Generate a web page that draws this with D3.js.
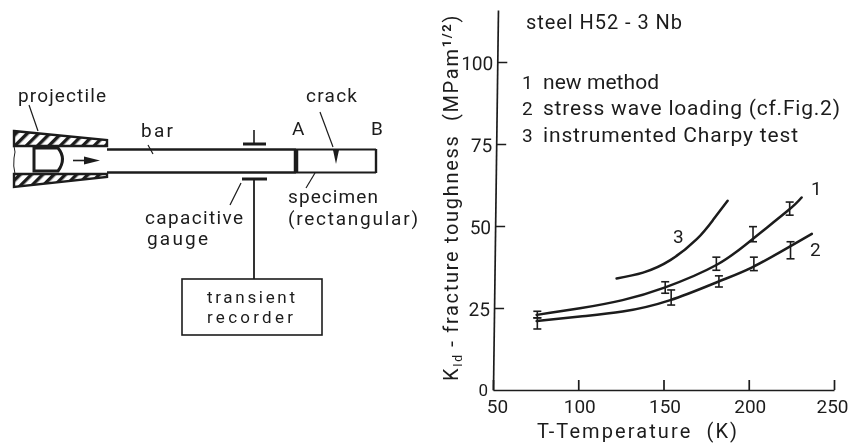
<!DOCTYPE html>
<html>
<head>
<meta charset="utf-8">
<script src="https://cdn.jsdelivr.net/npm/d3@7"></script>
<style>
  body { margin: 0; background: #fff; }
  svg { display: block; filter: blur(0.45px); }
  text { font-family: Roboto, sans-serif; fill: #1c1c1c; }
</style>
</head>
<body>
<div id="chart"></div>
<script>
// values
const xTicks = [50, 100, 150, 200, 250];
const yTicks = [25, 50, 75, 100];

const newMethodT = [75.6, 101, 126, 151, 181, 202, 223, 231];
const newMethodK = [22.9, 24.9, 27.4, 31.3, 38.1, 45.9, 54.7, 58.7];

const stressWaveT = [75.6, 101, 126, 154, 182, 202, 223, 237];
const stressWaveK = [21.0, 22.4, 23.9, 27.4, 33.0, 37.4, 43.4, 47.6];

const charpyT = [122.5, 138, 154, 169.5, 179, 187.6];
const charpyK = [34.0, 35.8, 39.6, 46.0, 51.8, 57.7];

// error bars: temperature, low, high
const newMethodErrT = [76, 151, 181, 202.5, 224];
const newMethodErrLow = [22, 29.5, 36.5, 45.2, 53.3];
const newMethodErrHigh = [24, 33, 40.5, 49.8, 57.3];

const stressWaveErrT = [76, 154.5, 182.5, 203, 224.5];
const stressWaveErrLow = [18.6, 25.9, 31.4, 36.4, 40];
const stressWaveErrHigh = [22, 30.5, 34.8, 40.5, 45.2];

const legendNumbers = ["1", "2", "3"];
const legendLabels = ["new method", "stress wave loading (cf.Fig.2)", "instrumented Charpy test"];
const legendWidths = [116, 297, 255];

const ink = "#1c1c1c";

const svg = d3.select("#chart")
  .append("svg")
  .attr("width", 855)
  .attr("height", 446);

// ---- left: the test rig sketch ----
const defs = svg.append("defs");
defs.append("pattern")
  .attr("id", "hatch")
  .attr("width", 8)
  .attr("height", 8)
  .attr("patternUnits", "userSpaceOnUse")
  .attr("patternTransform", "rotate(45)")
  .append("rect")
  .attr("width", 3.4)
  .attr("height", 8)
  .attr("fill", ink);

const rig = svg.append("g");

function line(x1, y1, x2, y2, w) {
  rig.append("line")
    .attr("x1", x1).attr("y1", y1).attr("x2", x2).attr("y2", y2)
    .attr("stroke", ink)
    .attr("stroke-width", w || 1.6);
}

// barrel walls
rig.append("path")
  .attr("d", "M14,131 L107,140 L107,146 L14,146 Z")
  .attr("fill", "url(#hatch)")
  .attr("stroke", ink)
  .attr("stroke-width", 2.4);
rig.append("path")
  .attr("d", "M14,174 L107,174 L107,177 L14,187 Z")
  .attr("fill", "url(#hatch)")
  .attr("stroke", ink)
  .attr("stroke-width", 2.4);
rig.append("path")
  .attr("d", "M14,146 Q16,152 14,158 Q13,166 15,174")
  .attr("fill", "none")
  .attr("stroke", ink)
  .attr("stroke-width", 1);

// projectile and arrow
rig.append("path")
  .attr("d", "M34,148 L58,148 Q67,159 58,171 L34,171 Z")
  .attr("fill", "none")
  .attr("stroke", ink)
  .attr("stroke-width", 3);
line(73, 160.5, 92, 160.5, 1.6);
rig.append("path").attr("d", "M100,160.5 L84,156.5 L84,164.5 Z").attr("fill", ink);

// bar and specimen
line(107, 149.5, 296, 149.5, 2.4);
line(107, 172.5, 296, 172.5, 2.6);
line(296, 149.5, 376, 149.5, 2.2);
line(296, 172.5, 376, 172.5, 2.2);
line(376, 149, 376, 173, 2.4);
line(296, 149, 296, 173, 4.5);
rig.append("path").attr("d", "M333,150 L339,150 L336,164 Z").attr("fill", ink);

// capacitive gauge
line(243, 144, 266, 144, 3);
line(254, 130, 254, 144, 1.6);
line(242, 179, 267, 179, 3);
line(254, 179, 254, 279, 1.8);

// leaders
line(29, 105, 38, 131, 1.2);
line(148, 145, 153, 154, 1.2);
line(320, 112, 333, 147, 1.2);
line(315, 173, 306, 188, 1.2);
line(241, 183, 230, 205, 1.2);

// recorder box
rig.append("rect")
  .attr("x", 182).attr("y", 279)
  .attr("width", 140).attr("height", 56)
  .attr("fill", "none")
  .attr("stroke", ink)
  .attr("stroke-width", 1.6);

// text, x, baseline, width
const rigLabels = [
  ["projectile", 18, 102, 88],
  ["bar", 141, 137, 32],
  ["A", 292, 135, 13],
  ["B", 371, 135, 12],
  ["crack", 306, 102, 51],
  ["specimen", 288, 203, 90],
  ["(rectangular)", 288, 225, 130],
  ["capacitive", 145, 224, 98],
  ["gauge", 147, 245, 61],
  ["transient", 207, 303, 88],
  ["recorder", 207, 323, 86]
];
rig.selectAll("text")
  .data(rigLabels)
  .join("text")
  .attr("x", d => d[1])
  .attr("y", d => d[2])
  .attr("font-size", d => d[2] > 290 ? 17 : 19)
  .attr("textLength", d => d[3])
  .attr("lengthAdjust", "spacing")
  .text(d => d[0]);

// ---- right: the toughness chart ----
const x = d3.scaleLinear().domain([50, 250]).range([493, 834]);
const y = d3.scaleLinear().domain([0, 115.85]).range([390, 10]);

const xAxis = svg.append("g")
  .attr("transform", "translate(0,390)")
  .call(d3.axisBottom(x).tickValues(xTicks).tickSize(-10).tickSizeOuter(0).tickPadding(10));
// the y axis leans a little in the scan
const yAxis = svg.append("g")
  .attr("transform", "translate(493,390) skewX(-0.75) translate(0,-390)")
  .call(d3.axisLeft(y).tickValues(yTicks).tickSize(-10).tickSizeOuter(0).tickPadding(4));

[xAxis, yAxis].forEach(a => {
  a.selectAll("path, line").attr("stroke", ink).attr("stroke-width", 1.7);
  a.selectAll("text").attr("font-size", 19).attr("font-family", "Roboto, sans-serif").attr("fill", ink);
});
xAxis.selectAll("text").attr("dx", d => d === 50 ? 4 : d === 250 ? -2 : 1);
yAxis.selectAll("text").attr("dy", "0.38em");
svg.append("text").attr("x", 488).attr("y", 396).attr("text-anchor", "end").attr("font-size", 17).text("0");

const curve = d3.line()
  .x(d => x(d[0]))
  .y(d => y(d[1]))
  .curve(d3.curveNatural);

function drawCurve(ts, ks) {
  svg.append("path")
    .datum(ts.map((t, i) => [t, ks[i]]))
    .attr("d", curve)
    .attr("fill", "none")
    .attr("stroke", ink)
    .attr("stroke-width", 2.5)
    .attr("stroke-linecap", "round");
}
drawCurve(newMethodT, newMethodK);
drawCurve(stressWaveT, stressWaveK);
drawCurve(charpyT, charpyK);

function drawErrors(ts, lows, highs) {
  const g = svg.append("g").attr("stroke", ink).attr("stroke-width", 1.6);
  ts.forEach((t, i) => {
    const cx = x(t);
    g.append("line").attr("x1", cx).attr("x2", cx).attr("y1", y(lows[i])).attr("y2", y(highs[i]));
    g.append("line").attr("x1", cx - 4).attr("x2", cx + 4).attr("y1", y(lows[i])).attr("y2", y(lows[i]));
    g.append("line").attr("x1", cx - 4).attr("x2", cx + 4).attr("y1", y(highs[i])).attr("y2", y(highs[i]));
  });
}
drawErrors(newMethodErrT, newMethodErrLow, newMethodErrHigh);
drawErrors(stressWaveErrT, stressWaveErrLow, stressWaveErrHigh);

// curve numbers
const curveTags = [["1", 811, 195], ["2", 810, 256], ["3", 673, 243]];
svg.selectAll(".tag")
  .data(curveTags)
  .join("text")
  .attr("class", "tag")
  .attr("x", d => d[1])
  .attr("y", d => d[2])
  .attr("font-size", 19)
  .text(d => d[0]);

// title and legend
svg.append("text")
  .attr("x", 526).attr("y", 29)
  .attr("font-size", 20)
  .attr("textLength", 156)
  .text("steel H52 - 3 Nb");
const legendY = [89, 115, 142];
legendNumbers.forEach((n, i) => {
  svg.append("text").attr("x", 522).attr("y", legendY[i]).attr("font-size", 19).text(n);
  svg.append("text")
    .attr("x", 543).attr("y", legendY[i])
    .attr("font-size", 21)
    .attr("textLength", legendWidths[i])
    .text(legendLabels[i]);
});

// axis titles
svg.append("text")
  .attr("x", 537)
  .attr("y", 438)
  .attr("font-size", 20)
  .attr("textLength", 200)
  .text("T-Temperature\u00a0\u00a0(K)");

const yTitle = svg.append("text")
  .attr("transform", "translate(458,381) rotate(-90)")
  .attr("font-size", 20)
  .attr("letter-spacing", 1.7);
yTitle.append("tspan").text("K");
yTitle.append("tspan").attr("font-size", 12).attr("dy", 4).text("Id");
yTitle.append("tspan").attr("dy", -4).text("\u00a0- fracture toughness\u00a0\u00a0(MPam");
yTitle.append("tspan").attr("font-size", 13).attr("font-weight", 700).attr("dy", -7).text("1/2");
yTitle.append("tspan").attr("dy", 7).text(")");
</script>
</body>
</html>
